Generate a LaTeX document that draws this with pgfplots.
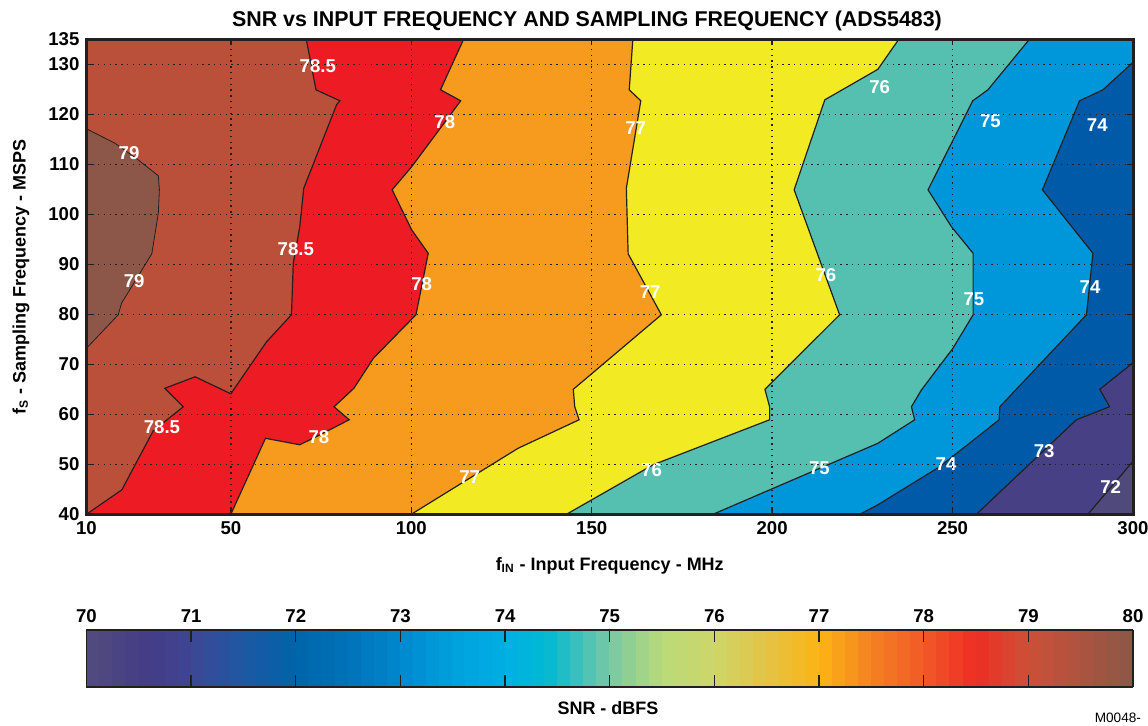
\documentclass[border=0pt]{standalone}
\usepackage{fontspec}
\setmainfont{Liberation Sans}
\usepackage{pgfplots}
\pgfplotsset{compat=1.18}

\definecolor{c71}{RGB}{80,74,124}
\definecolor{c72}{RGB}{71,64,133}
\definecolor{c73}{RGB}{0,90,168}
\definecolor{c74}{RGB}{0,150,218}
\definecolor{c75}{RGB}{85,192,176}
\definecolor{c76}{RGB}{242,235,35}
\definecolor{c77}{RGB}{247,155,30}
\definecolor{c78}{RGB}{237,28,36}
\definecolor{c785}{RGB}{187,80,58}
\definecolor{c79}{RGB}{140,87,72}
\definecolor{frame}{RGB}{35,31,32}

% contour labels
\pgfplotstableread{
x y lab
74.1 129.7 78.5
21.8 112.3 79
109.3 118.4 78
162.2 117.3 77
229.8 125.5 76
260.5 118.7 75
290.1 117.9 74
68.0 93.0 78.5
23.2 86.7 79
102.9 86.1 78
166.2 84.5 77
214.9 87.9 76
255.9 83.1 75
288.1 85.5 74
30.9 57.5 78.5
74.4 55.5 78
116.2 47.5 77
166.6 48.9 76
213.1 49.3 75
248.2 50.1 74
275.4 52.6 73
293.8 45.5 72
}\labels

\newcommand{\tickfont}{\fontsize{9.3}{11}\selectfont\bfseries}

\begin{document}
\begin{tikzpicture}
\begin{axis}[
    name=main,
    at={(0,0)}, anchor=south west,
    width=523.25pt, height=237.5pt, scale only axis,
    xmin=10, xmax=300, ymin=40, ymax=135,
    xtick={10,50,100,150,200,250,300},
    ytick={40,50,60,70,80,90,100,110,120,130,135},
    grid=major,
    grid style={frame, line width=0.7pt, dash pattern=on 0.7pt off 2.2pt},
    set layers=axis on top,
    axis line style={line width=1.5pt, frame},
    tick align=inside, major tick length=3pt,
    tick style={frame, line width=0.7pt},
    ticklabel style={font=\tickfont},
    /pgf/number format/assume math mode=true,
    xlabel={f\textsubscript{IN} - Input Frequency - MHz},
    ylabel={f\textsubscript{S} - Sampling Frequency - MSPS},
    xlabel style={at={(axis description cs:0.5,-0.109)}, anchor=center,
        font=\fontsize{9}{11}\selectfont\bfseries},
    ylabel style={at={(axis description cs:-0.0625,0.5)}, anchor=center,
        font=\fontsize{9}{11}\selectfont\bfseries},
    colormap={snr}{[1pt]
        rgb255(0pt)=(82,76,125) rgb255(6pt)=(68,60,135) rgb255(10pt)=(62,70,148)
        rgb255(15pt)=(30,88,162) rgb255(20pt)=(0,100,170) rgb255(25pt)=(0,115,185)
        rgb255(30pt)=(0,135,205) rgb255(35pt)=(0,160,220) rgb255(40pt)=(0,175,228)
        rgb255(44pt)=(0,185,210) rgb255(50pt)=(120,200,165) rgb255(55pt)=(185,218,120)
        rgb255(60pt)=(205,215,105) rgb255(65pt)=(228,195,70) rgb255(70pt)=(252,180,20)
        rgb255(75pt)=(245,130,35) rgb255(80pt)=(240,90,40) rgb255(85pt)=(238,45,36)
        rgb255(90pt)=(205,80,55) rgb255(100pt)=(140,87,72)},
    colorbar horizontal, colorbar sampled,
    point meta min=70, point meta max=80,
    colorbar style={
        at={(0,-0.3636)}, anchor=south west,
        width=523.25pt, height=28.5pt, scale only axis,
        samples=81,
        xtick={70,71,...,80}, ytick=\empty,
        xticklabel pos=upper, xtick pos=both,
        tick align=inside, major tick length=6pt,
        tick style={frame, line width=0.7pt},
        axis line style={line width=0.6pt, frame},
        ticklabel style={font=\tickfont},
        /pgf/number format/assume math mode=true,
    },
]
% filled regions, lowest level first
\addplot[fill=c71, draw=none] coordinates {(10,40) (300,40) (300,135) (10,135)};
\addplot[fill=c72, draw=none] coordinates {
(300,50.6) (287.5,40) (10,40) (10,135) (300,135)};
\addplot[fill=c73, draw=none] coordinates {
(300,70.3) (290.8,65) (293.5,61.5) (284.3,58.9) (256.6,40)
(10,40) (10,135) (300,135)};
\addplot[fill=c74, draw=none] coordinates {
(300,130.4) (291.7,124.9) (285.2,122.7) (274.9,104.9) (288.9,92.2) (287.1,79.9)
(263.1,61.5) (262.9,58.9) (246.4,49.5) (229.3,41.9) (224.3,40)
(10,40) (10,135) (300,135)};
\addplot[fill=c75, draw=none] coordinates {
(271.3,135) (259.8,124.9) (255.6,122.7) (243.2,104.9) (249.7,97.5) (255.7,92.2)
(255.7,79.9) (250.1,73.2) (241.4,64.9) (238.6,61.5) (239.5,58.9) (229.3,54.2)
(183.6,40) (10,40) (10,135)};
\addplot[fill=c76, draw=none] coordinates {
(235.1,135) (229.3,129) (223.3,126.5) (214.6,122.9) (206.1,104.9) (218.7,79.9)
(198,65) (199.3,61.5) (199.3,58.9) (167,49.9) (143,40) (10,40) (10,135)};
\addplot[fill=c77, draw=none] coordinates {
(161.4,135) (160.4,124.9) (163.6,122.7) (159.6,105.2) (160.1,92.1) (169.3,79.9)
(144.9,65) (145.3,61.5) (146.5,58.9) (129.6,53.2) (100,40) (10,40) (10,135)};
\addplot[fill=c78, draw=none] coordinates {
(114.5,135) (108.1,124.9) (113.7,122.7) (100.1,109.5) (94.7,104.9) (100.1,96.9)
(104.7,92.2) (101.3,79.9) (89.5,71.2) (84.1,65.2) (78.6,61.5) (82.8,58.9)
(74.7,55.9) (69.1,53.9) (59.6,55.2) (50,40) (10,40) (10,135)};
\addplot[fill=c785, draw=none] coordinates {
(70.9,135) (73.6,124.9) (80.2,122.7) (79.3,121.9) (70.2,105.2) (69.1,97.5)
(67.3,90.2) (66.8,79.9) (59.9,74.5) (50,64.1) (40.1,67.5) (31.7,65.2) (36.8,61.5)
(28.5,56.7) (19.8,44.9) (10,40) (10,135)};
\addplot[fill=c79, draw=none] coordinates {
(10,117.1) (17.9,114.2) (24.3,110.9) (29.9,107.7) (30.2,104.9) (29.9,100.2)
(28.1,92.1) (19.7,82.2) (18.8,79.9) (10,73.2)};

% contour lines
\addplot[frame, line width=0.6pt] coordinates {(300,50.6) (287.5,40)};
\addplot[frame, line width=0.6pt] coordinates {
(300,70.3) (290.8,65) (293.5,61.5) (284.3,58.9) (256.6,40)};
\addplot[frame, line width=0.6pt] coordinates {
(300,130.4) (291.7,124.9) (285.2,122.7) (274.9,104.9) (288.9,92.2) (287.1,79.9)
(263.1,61.5) (262.9,58.9) (246.4,49.5) (229.3,41.9) (224.3,40)};
\addplot[frame, line width=0.6pt] coordinates {
(271.3,135) (259.8,124.9) (255.6,122.7) (243.2,104.9) (249.7,97.5) (255.7,92.2)
(255.7,79.9) (250.1,73.2) (241.4,64.9) (238.6,61.5) (239.5,58.9) (229.3,54.2)
(183.6,40)};
\addplot[frame, line width=0.6pt] coordinates {
(235.1,135) (229.3,129) (223.3,126.5) (214.6,122.9) (206.1,104.9) (218.7,79.9)
(198,65) (199.3,61.5) (199.3,58.9) (167,49.9) (143,40)};
\addplot[frame, line width=0.6pt] coordinates {
(161.4,135) (160.4,124.9) (163.6,122.7) (159.6,105.2) (160.1,92.1) (169.3,79.9)
(144.9,65) (145.3,61.5) (146.5,58.9) (129.6,53.2) (100,40)};
\addplot[frame, line width=0.6pt] coordinates {
(114.5,135) (108.1,124.9) (113.7,122.7) (100.1,109.5) (94.7,104.9) (100.1,96.9)
(104.7,92.2) (101.3,79.9) (89.5,71.2) (84.1,65.2) (78.6,61.5) (82.8,58.9)
(74.7,55.9) (69.1,53.9) (59.6,55.2) (50,40)};
\addplot[frame, line width=0.6pt] coordinates {
(70.9,135) (73.6,124.9) (80.2,122.7) (79.3,121.9) (70.2,105.2) (69.1,97.5)
(67.3,90.2) (66.8,79.9) (59.9,74.5) (50,64.1) (40.1,67.5) (31.7,65.2) (36.8,61.5)
(28.5,56.7) (19.8,44.9) (10,40)};
\addplot[frame, line width=0.4pt] coordinates {
(10,117.1) (17.9,114.2) (24.3,110.9) (29.9,107.7) (30.2,104.9) (29.9,100.2)
(28.1,92.1) (19.7,82.2) (18.8,79.9) (10,73.2)};

% level labels
\addplot[draw=none, mark=none, on layer=axis foreground,
    nodes near coords, point meta=explicit symbolic,
    every node near coord/.style={anchor=center, text=white, inner sep=0pt,
        font=\fontsize{9.3}{11}\selectfont\bfseries}]
    table[x=x, y=y, meta=lab] {\labels};
\end{axis}
\node[font=\fontsize{10.7}{12}\selectfont\bfseries] at (250.25pt,246.9pt)
    {SNR vs INPUT FREQUENCY AND SAMPLING FREQUENCY (ADS5483)};
\node[font=\fontsize{9}{11}\selectfont\bfseries] at (260.75pt,-96.85pt) {SNR - dBFS};
\node[font=\fontsize{6.8}{8}\selectfont, anchor=east] at (530.75pt,-101.85pt) {M0048-};
\pgfresetboundingbox
\path (-43.25pt,-105.85pt) rectangle (530.75pt,257.15pt);
\end{tikzpicture}
\end{document}
